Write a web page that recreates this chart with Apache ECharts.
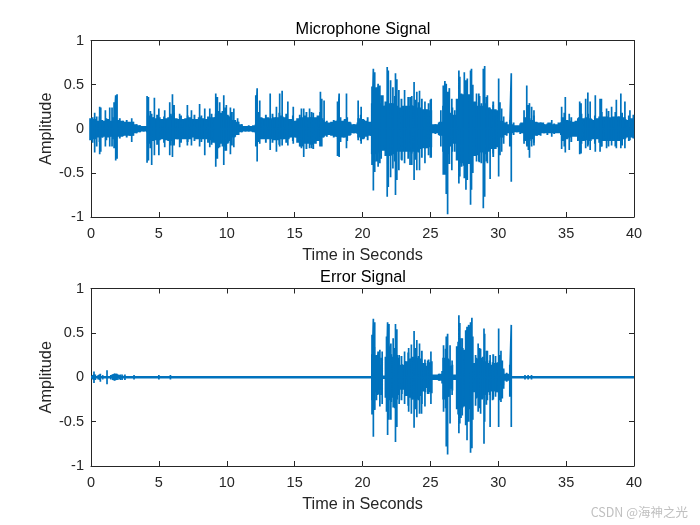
<!DOCTYPE html>
<html><head><meta charset="utf-8">
<style>html,body{margin:0;padding:0;background:#fff}#c{width:700px;height:525px}</style>
<script src="https://cdn.jsdelivr.net/npm/echarts@6/dist/echarts.min.js"></script></head>
<body><div id="c"></div>
<script>
const titles = ['Microphone Signal', 'Error Signal'];
const xName = 'Time in Seconds';
const yName = 'Amplitude';
const watermark = 'CSDN @海神之光';

const bodyTimes = [0,.25,.5,.75,1,1.25,1.5,1.75,2,2.25,2.5,2.75,3,3.25,3.5,3.75,4,4.25,4.5,4.75,5,5.25,5.5,5.75,6,6.25,6.5,6.75,7,7.25,7.5,7.75,8,8.25,8.5,8.75,9,9.25,9.5,9.75,10,10.25,10.5,10.75,11,11.25,11.5,11.75,12,12.25,12.5,12.75,13,13.25,13.5,13.75,14,14.25,14.5,14.75,15,15.25,15.5,15.75,16,16.25,16.5,16.75,17,17.25,17.5,17.75,18,18.25,18.5,18.75,19,19.25,19.5,19.75,20,20.25,20.5,20.75,21,21.25,21.5,21.75,22,22.25,22.5,22.75,23,23.25,23.5,23.75,24,24.25,24.5,24.75,25,25.25,25.5,25.75,26,26.25,26.5,26.75,27,27.25,27.5,27.75,28,28.25,28.5,28.75,29,29.25,29.5,29.75,30,30.25,30.5,30.75,31,31.25,31.5,31.75,32,32.25,32.5,32.75,33,33.25,33.5,33.75,34,34.25,34.5,34.75,35,35.25,35.5,35.75,36,36.25,36.5,36.75,37,37.25,37.5,37.75,38,38.25,38.5,38.75,39,39.25,39.5,39.8];
const micBodyHigh = [.12,.11,.09,.1,.09,.11,.09,.09,.1,.09,.08,.08,.08,.05,.04,.03,.03,.15,.13,.12,.13,.11,.12,.13,.15,.12,.11,.11,.12,.13,.11,.11,.13,.12,.11,.13,.13,.17,.18,.2,.16,.14,.1,.08,.05,.03,.03,.03,.04,.13,.13,.12,.13,.12,.13,.13,.15,.13,.11,.11,.09,.12,.13,.15,.13,.13,.13,.15,.12,.08,.07,.08,.09,.11,.09,.11,.08,.05,.05,.12,.11,.09,.08,.29,.31,.29,.26,.31,.29,.29,.26,.24,.26,.26,.26,.26,.24,.24,.22,.22,.21,.05,.05,.08,.26,.26,.18,.16,.34,.39,.39,.39,.39,.31,.26,.26,.29,.24,.22,.22,.21,.09,.07,.05,.05,.04,.04,.07,.13,.12,.1,.08,.07,.07,.05,.07,.05,.05,.07,.13,.1,.09,.08,.09,.13,.12,.13,.12,.1,.12,.14,.14,.14,.13,.14,.14,.14,.13,.1,.12];
const micBodyLow = [-.13,-.12,-.1,-.1,-.09,-.1,-.09,-.09,-.09,-.09,-.08,-.08,-.08,-.05,-.04,-.03,-.03,-.17,-.14,-.13,-.13,-.12,-.13,-.14,-.14,-.12,-.12,-.12,-.12,-.12,-.1,-.12,-.12,-.12,-.12,-.13,-.16,-.17,-.17,-.2,-.17,-.14,-.1,-.07,-.04,-.03,-.03,-.03,-.04,-.12,-.12,-.12,-.12,-.12,-.13,-.13,-.12,-.12,-.12,-.1,-.1,-.16,-.2,-.17,-.17,-.18,-.17,-.14,-.1,-.08,-.07,-.08,-.09,-.12,-.1,-.1,-.08,-.05,-.05,-.1,-.12,-.09,-.08,-.29,-.29,-.26,-.25,-.31,-.31,-.29,-.26,-.26,-.26,-.26,-.26,-.26,-.26,-.23,-.22,-.22,-.21,-.05,-.05,-.08,-.26,-.29,-.2,-.17,-.36,-.39,-.42,-.4,-.4,-.31,-.3,-.27,-.29,-.26,-.23,-.23,-.21,-.1,-.07,-.05,-.05,-.04,-.04,-.05,-.14,-.14,-.12,-.08,-.07,-.05,-.05,-.05,-.05,-.05,-.05,-.14,-.12,-.1,-.09,-.09,-.13,-.14,-.13,-.14,-.12,-.12,-.16,-.14,-.14,-.14,-.14,-.14,-.14,-.12,-.1,-.1];

const micMidTimes = [.12,.37,.63,.86,1.13,1.38,1.62,1.87,2.12,2.37,2.63,2.88,3.12,3.37,3.62,3.88,4.12,4.37,4.62,4.87,5.12,5.38,5.62,5.88,6.12,6.37,6.63,6.87,7.12,7.38,7.62,7.87,8.13,8.37,8.62,8.88,9.12,9.38,9.62,9.88,10.12,10.38,10.62,10.87,11.12,11.38,11.62,11.87,12.13,12.37,12.62,12.88,13.12,13.37,13.63,13.87,14.12,14.38,14.62,14.87,15.12,15.38,15.62,15.87,16.13,16.37,16.62,16.88,17.12,17.37,17.62,17.88,18.12,18.38,18.62,18.87,19.12,19.37,19.63,19.87,20.12,20.38,20.62,20.87,21.12,21.37,21.63,21.87,22.12,22.38,22.62,22.87,23.13,23.37,23.62,23.88,24.12,24.37,24.63,24.87,25.05,25.37,25.62,25.87,26.12,26.37,26.62,26.88,27.12,27.38,27.62,27.87,28.12,28.38,28.62,28.87,29.12,29.37,29.63,29.87,30.12,30.37,30.62,30.87,31.13,31.37,31.62,31.87,32.12,32.38,32.62,32.87,33.12,33.37,33.62,33.88,34.12,34.37,34.62,34.87,35.12,35.38,35.62,35.87,36.13,36.37,36.62,36.88,37.12,37.38,37.62,37.87,38.12,38.37,38.63,38.87,39.12,39.38,39.62,39.9];
const micMidHigh = [.13,.1,.14,.09,.12,.08,.13,.1,.12,.09,.1,.07,.08,.05,.04,.03,.03,.2,.13,.16,.1,.14,.11,.17,.18,.11,.15,.1,.15,.12,.16,.1,.15,.11,.14,.17,.13,.2,.16,.24,.15,.19,.1,.08,.05,.03,.04,.03,.05,.19,.12,.16,.11,.17,.13,.18,.14,.17,.1,.15,.09,.16,.12,.19,.13,.18,.11,.19,.1,.09,.06,.1,.09,.13,.09,.13,.07,.05,.07,.16,.1,.13,.07,.4,.3,.38,.26,.42,.29,.37,.25,.34,.24,.36,.27,.33,.3,.34,.22,.29,.28,.05,.07,.06,.36,.26,.24,.15,.44,.36,.48,.38,.5,.3,.37,.25,.36,.24,.31,.2,.3,.08,.08,.04,.07,.03,.06,.05,.18,.1,.15,.07,.07,.05,.06,.04,.06,.04,.07,.18,.1,.13,.07,.12,.17,.1,.17,.11,.15,.1,.19,.13,.2,.12,.19,.14,.18,.11,.15,.1];
const micMidLow = [-.16,-.11,-.15,-.1,-.13,-.09,-.12,-.1,-.11,-.08,-.1,-.08,-.08,-.05,-.04,-.03,-.04,-.22,-.14,-.18,-.12,-.16,-.12,-.19,-.17,-.12,-.16,-.11,-.15,-.11,-.14,-.1,-.15,-.11,-.16,-.18,-.14,-.22,-.15,-.25,-.16,-.19,-.09,-.07,-.04,-.03,-.03,-.03,-.05,-.15,-.11,-.16,-.1,-.16,-.12,-.18,-.12,-.16,-.1,-.14,-.1,-.2,-.16,-.23,-.15,-.23,-.14,-.2,-.1,-.09,-.06,-.1,-.09,-.15,-.1,-.14,-.07,-.05,-.06,-.14,-.11,-.13,-.08,-.38,-.28,-.34,-.22,-.4,-.3,-.37,-.25,-.35,-.25,-.34,-.28,-.35,-.27,-.33,-.22,-.3,-.28,-.06,-.07,-.07,-.35,-.28,-.26,-.16,-.48,-.38,-.5,-.4,-.5,-.3,-.38,-.26,-.37,-.25,-.32,-.2,-.3,-.1,-.08,-.05,-.07,-.04,-.06,-.05,-.2,-.12,-.16,-.08,-.08,-.05,-.07,-.04,-.06,-.04,-.07,-.2,-.11,-.15,-.08,-.14,-.17,-.12,-.18,-.12,-.17,-.11,-.2,-.13,-.2,-.13,-.2,-.13,-.19,-.11,-.14,-.1];

const micSpikeTimes = [.27,.42,.64,.72,1.06,1.38,1.55,1.7,1.82,1.92,3,4.13,4.23,4.47,4.67,5,5.43,5.8,6,6.12,6.53,7.1,7.4,8,8.38,8.75,9.19,9.31,9.48,9.78,9.97,10.27,10.52,10.8,12.14,12.24,12.43,13.2,13.66,13.9,14.08,14.5,14.9,15.5,15.67,16.1,16.25,16.9,17,17.17,18.16,18.28,18.82,19.68,19.9,20.7,20.8,20.9,21.03,21.15,21.28,21.5,21.82,21.9,22.07,22.24,22.43,22.53,22.68,22.9,23.1,23.5,23.63,23.8,24,24.2,24.6,25,25.06,25.77,25.95,26.07,26.17,26.27,26.4,26.58,26.8,27.1,27.17,27.3,27.5,27.62,27.72,27.96,28.03,28.4,28.57,28.75,28.9,29,29.2,29.4,29.63,30.03,30.25,30.4,30.85,30.96,31.9,32.1,32.22,32.3,32.46,32.63,33.94,34.67,34.94,35.23,36,36.1,36.44,36.6,36.77,37.15,37.5,37.6,37.98,38.35,38.7,39.03,39.33,39.7,39.95];
const micSpikeHigh = [.18,.14,.25,.24,.21,.24,.24,.3,.38,.39,.12,.37,.36,.17,.35,.23,.21,.3,.39,.27,.17,.27,.21,.28,.23,.23,.4,.36,.3,.38,.27,.24,.23,.12,.38,.46,.32,.4,.25,.4,.43,.31,.25,.23,.23,.23,.19,.42,.34,.32,.31,.4,.4,.32,.25,.48,.68,.64,.47,.51,.49,.38,.7,.66,.55,.47,.63,.56,.44,.25,.44,.36,.37,.53,.42,.43,.31,.33,.34,.21,.49,.54,.51,.42,.46,.34,.21,.66,.59,.4,.64,.55,.57,.66,.68,.4,.4,.29,.68,.71,.38,.23,.27,.57,.23,.14,.1,.63,.21,.49,.27,.29,.25,.21,.1,.25,.36,.17,.31,.29,.34,.41,.31,.38,.34,.34,.23,.25,.33,.4,.31,.21,.16];
const micSpikeLow = [-.27,-.2,-.29,-.26,-.2,-.2,-.2,-.22,-.36,-.34,-.15,-.385,-.36,-.41,-.3,-.3,-.21,-.3,-.32,-.19,-.21,-.19,-.19,-.2,-.3,-.21,-.43,-.34,-.21,-.41,-.25,-.29,-.21,-.07,-.2,-.37,-.17,-.24,-.26,-.2,-.19,-.19,-.17,-.22,-.32,-.22,-.22,-.19,-.2,-.09,-.31,-.32,-.22,-.13,-.17,-.41,-.7,-.49,-.37,-.43,-.39,-.24,-.77,-.66,-.55,-.45,-.75,-.58,-.47,-.36,-.39,-.41,-.41,-.58,-.47,-.47,-.39,-.33,-.33,-.2,-.52,-.52,-.74,-.97,-.4,-.47,-.26,-.62,-.54,-.43,-.56,-.69,-.58,-.86,-.69,-.37,-.37,-.39,-.9,-.77,-.39,-.57,-.28,-.54,-.26,-.17,-.2,-.6,-.17,-.18,-.24,-.33,-.2,-.19,-.09,-.23,-.27,-.24,-.29,-.28,-.22,-.2,-.24,-.26,-.26,-.2,-.22,-.19,-.22,-.22,-.22,-.13,-.11];

const errBodyTimes = [20.75,21,21.25,21.75,22,22.25,22.5,22.75,23,23.25,23.5,23.75,24,24.25,24.5,24.75,25,25.25,25.5,25.75,26,26.25,26.5,26.75,27,27.25,27.5,27.75,28,28.25,28.5,28.75,29,29.25,29.5,29.75,30,30.25,30.5,30.75];
const errBodyHigh = [.26,.17,.14,.23,.26,.23,.25,.14,.14,.18,.21,.23,.22,.21,.16,.13,.17,.03,.03,.04,.22,.21,.13,.03,.35,.34,.31,.3,.31,.16,.21,.22,.18,.16,.14,.16,.17,.09,.04,.04];
const errBodyLow = [-.26,-.17,-.14,-.23,-.26,-.23,-.25,-.14,-.14,-.21,-.23,-.25,-.25,-.21,-.16,-.12,-.17,-.03,-.03,-.04,-.25,-.22,-.13,-.03,-.36,-.35,-.33,-.31,-.33,-.17,-.23,-.25,-.2,-.17,-.16,-.16,-.17,-.09,-.04,-.04];
const errMidTimes = [20.87,21.12,21.37,21.87,22.12,22.38,22.62,22.87,23.13,23.37,23.62,23.88,24.12,24.37,24.63,24.87,25.1,25.37,25.62,25.87,26.12,26.37,26.62,27.05,27.25,27.38,27.62,27.87,28.12,28.38,28.62,28.87,29.12,29.37,29.63,29.87,30.12,30.37,30.62,30.87];
const errMidHigh = [.34,.19,.22,.36,.26,.33,.22,.24,.18,.28,.22,.33,.24,.3,.16,.2,.18,.02,.04,.07,.32,.2,.14,.4,.44,.33,.47,.34,.46,.22,.33,.23,.3,.19,.26,.16,.25,.08,.05,.04];
const errMidLow = [-.36,-.2,-.2,-.34,-.28,-.35,-.2,-.26,-.2,-.32,-.25,-.36,-.26,-.3,-.17,-.19,-.18,-.02,-.04,-.07,-.35,-.22,-.15,-.42,-.46,-.34,-.47,-.36,-.48,-.24,-.35,-.24,-.31,-.2,-.25,-.17,-.26,-.09,-.05,-.04];

const errSpikeTimes = [.22,.32,.69,1.18,1.7,1.8,1.9,2.2,2.5,3.17,5,5.85,20.7,20.8,20.9,21.03,21.15,21.28,21.45,21.77,21.85,21.95,22.09,22.26,22.43,22.53,22.7,22.9,23.1,23.4,23.6,23.8,24,24.2,24.35,24.6,24.8,25.04,25.97,26.17,26.27,26.45,26.6,27.1,27.17,27.35,27.6,27.7,27.82,27.96,28.06,28.33,28.52,28.7,28.95,29,29.2,29.4,29.58,29.8,30.03,30.2,30.3,30.4,30.85,30.96,31.97,32.2,32.45];
const errSpikeHigh = [.065,.03,.04,.08,.04,.04,.04,.03,.03,.025,.025,.025,.48,.66,.62,.25,.29,.31,.29,.46,.62,.6,.38,.44,.6,.54,.25,.15,.29,.33,.37,.52,.42,.38,.2,.2,.19,.29,.36,.46,.49,.36,.19,.7,.61,.44,.53,.57,.59,.62,.67,.25,.38,.32,.55,.49,.3,.25,.17,.24,.55,.3,.19,.1,.14,.59,.025,.025,.025];
const errSpikeLow = [-.065,-.03,-.05,-.08,-.035,-.035,-.03,-.03,-.03,-.025,-.025,-.025,-.42,-.67,-.37,-.26,-.19,-.33,-.3,-.39,-.65,-.48,-.48,-.34,-.73,-.56,-.3,-.19,-.3,-.39,-.41,-.57,-.45,-.41,-.41,-.33,-.19,-.3,-.39,-.78,-.87,-.52,-.2,-.63,-.52,-.43,-.54,-.71,-.5,-.85,-.8,-.32,-.39,-.41,-.75,-.5,-.26,-.56,-.26,-.22,-.56,-.28,-.24,-.13,-.22,-.56,-.025,-.025,-.025];

const flatTimes = [0, 20, 40];
const flatValues = [0, 0, 0];
const quietTimes = [.1,.2,.3,.42,.52,.62,.75,.87,1,1.3,1.45,1.58,1.65,1.75,1.85,1.98,2.1,2.3,2.45];
const quietHigh = [.025,.03,.025,.02,.025,.03,.02,.025,.02,.02,.025,.03,.035,.04,.03,.03,.025,.03,.02];

const blue = '#0072BD', ink = '#262626', font = 'Liberation Sans';

function strokes(times, high, low) {
  const out = [];
  times.forEach((t, i) => { out.push([t, 0], [t, high[i]], [t, low[i]], [t, 0]); });
  return out;
}
function lineSeries(grid, data, width) {
  return { type: 'line', xAxisIndex: grid * 2, yAxisIndex: grid * 2, data, showSymbol: false,
    symbol: 'none', animation: false, silent: true, clip: true,
    lineStyle: { color: blue, width, cap: 'butt', join: 'bevel' } };
}
const grids = [{ left: 91, right: 66, top: 40.5, height: 176.5 }, { left: 91, right: 66, top: 288.5, height: 177.5 }];
const xAxes = [], yAxes = [];
grids.forEach((g, i) => {
  const baseX = { type: 'value', gridIndex: i, min: 0, max: 40, interval: 5, splitLine: { show: false },
    axisLine: { onZero: false, lineStyle: { color: ink, width: 1 } },
    axisTick: { inside: true, length: 5, lineStyle: { color: ink, width: 1 } } };
  const baseY = { type: 'value', gridIndex: i, min: -1, max: 1, interval: 0.5, splitLine: { show: false },
    axisLine: { onZero: false, lineStyle: { color: ink, width: 1 } },
    axisTick: { inside: true, length: 5, lineStyle: { color: ink, width: 1 } } };
  xAxes.push({ ...baseX, position: 'bottom', name: xName, nameLocation: 'middle', nameGap: 31,
    nameTextStyle: { color: ink, fontFamily: font, fontSize: 16.3 },
    axisLabel: { color: ink, fontFamily: font, fontSize: 14.5, margin: 9 } });
  xAxes.push({ ...baseX, position: 'top', axisLabel: { show: false } });
  yAxes.push({ ...baseY, position: 'left', name: yName, nameLocation: 'middle', nameGap: 36, nameMoveOverlap: false,
    nameTextStyle: { color: ink, fontFamily: font, fontSize: 16.3 },
    axisLabel: { color: ink, fontFamily: font, fontSize: 14.5, margin: 7 } });
  yAxes.push({ ...baseY, position: 'right', axisLabel: { show: false } });
});
const option = {
  backgroundColor: '#fff', animation: false,
  title: titles.map((text, i) => ({ text, left: 358, textAlign: 'center', top: i ? 265 : 17,
    textStyle: { color: '#000', fontFamily: font, fontSize: 16.3, fontWeight: 'normal' } })),
  grid: grids, xAxis: xAxes, yAxis: yAxes,
  series: [
    lineSeries(0, strokes(bodyTimes, micBodyHigh, micBodyLow), 3.6),
    lineSeries(0, strokes(micMidTimes, micMidHigh, micMidLow), 1.9),
    lineSeries(0, strokes(micSpikeTimes, micSpikeHigh, micSpikeLow), 1.7),
    lineSeries(1, flatTimes.map((t, i) => [t, flatValues[i]]), 2.4),
    lineSeries(1, strokes(quietTimes, quietHigh, quietHigh.map(v => -v)), 1.4),
    lineSeries(1, strokes(errBodyTimes, errBodyHigh, errBodyLow), 3.4),
    lineSeries(1, strokes(errMidTimes, errMidHigh, errMidLow), 1.9),
    lineSeries(1, strokes(errSpikeTimes, errSpikeHigh, errSpikeLow), 1.7)
  ],
  graphic: [{ type: 'text', right: 12, top: 506, silent: true,
    style: { text: watermark, fill: '#c0c0c0', fontFamily: 'Noto Sans CJK SC', fontSize: 12.5 } }]
};
echarts.init(document.getElementById('c'), null, { renderer: 'canvas' }).setOption(option);
</script></body></html>
